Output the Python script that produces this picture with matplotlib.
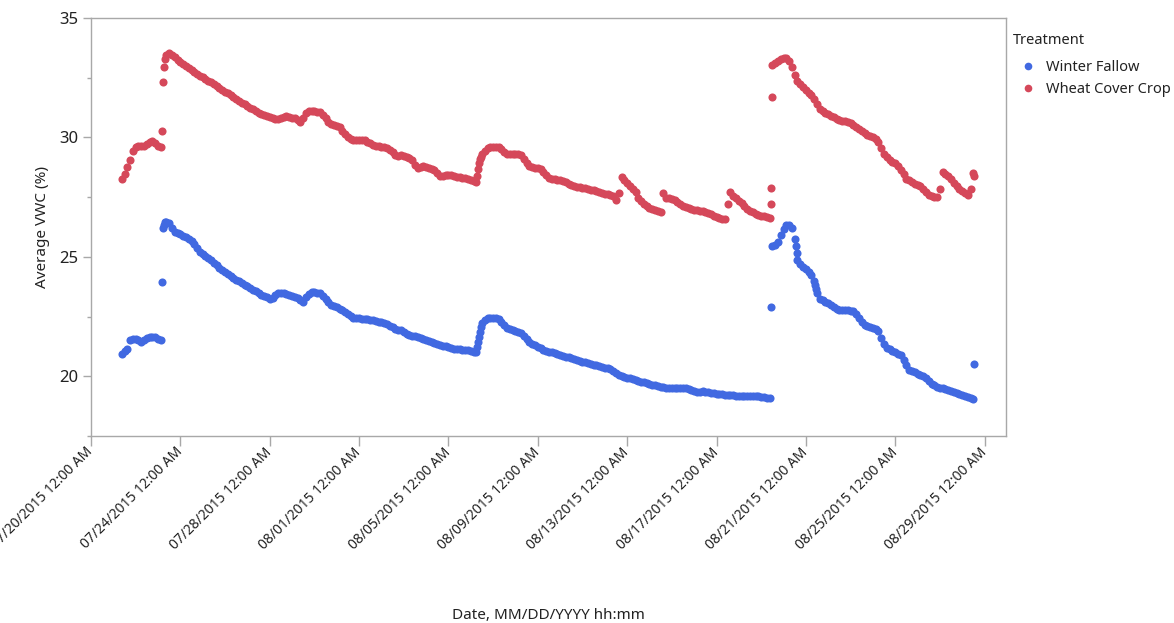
import matplotlib
matplotlib.use("Agg")
import matplotlib.pyplot as plt
import matplotlib.dates as mdates
from matplotlib.lines import Line2D
from matplotlib.ticker import FixedLocator, MultipleLocator
import numpy as np
import pandas as pd

# ---- data -------------------------------------------------------------
treatments = ["Winter Fallow", "Wheat Cover Crop"]
colors = ["#4169E1", "#D5485A"]

# regular 3-hourly logging runs (start of each run)
run_starts = ["2015-07-21 09:00", "2015-07-23 09:00", "2015-08-19 12:00"]

fallow_run1 = [20.95, 21.05, 21.15, 21.50, 21.58, 21.58, 21.52, 21.43, 21.50, 21.60,
               21.66, 21.66, 21.63, 21.58, 21.50]
cover_run1 = [28.25, 28.45, 28.75, 29.07, 29.45, 29.58, 29.65, 29.66, 29.66, 29.72,
              29.80, 29.85, 29.76, 29.66, 29.58]

fallow_run2 = [
    26.47, 26.43, 26.22, 26.06, 26.01, 25.95, 25.89, 25.83, 25.76, 25.68,
    25.53, 25.37, 25.20, 25.10, 25.02, 24.94, 24.85, 24.76, 24.66, 24.55,
    24.45, 24.37, 24.29, 24.21, 24.13, 24.05, 23.97, 23.89, 23.83, 23.76,
    23.69, 23.62, 23.56, 23.49, 23.42, 23.36, 23.30, 23.24, 23.28, 23.40,
    23.49, 23.50, 23.47, 23.43, 23.40, 23.36, 23.32, 23.26, 23.19, 23.12,
    23.30, 23.46, 23.51, 23.51, 23.50, 23.48, 23.38, 23.24, 23.10, 23.00,
    22.94, 22.88, 22.82, 22.76, 22.70, 22.62, 22.54, 22.46, 22.44, 22.42,
    22.41, 22.40, 22.39, 22.36, 22.34, 22.32, 22.29, 22.27, 22.24, 22.18,
    22.12, 22.06, 22.00, 21.94, 21.92, 21.85, 21.79, 21.74, 21.70, 21.67,
    21.63, 21.59, 21.55, 21.51, 21.47, 21.43, 21.40, 21.36, 21.32, 21.28,
    21.25, 21.21, 21.18, 21.16, 21.15, 21.13, 21.12, 21.11, 21.09, 21.06,
    21.03, 21.00, 21.65, 22.25, 22.36, 22.44, 22.46, 22.44, 22.42, 22.39,
    22.27, 22.14, 22.04, 22.00, 21.95, 21.91, 21.86, 21.80, 21.69, 21.56,
    21.44, 21.36, 21.30, 21.24, 21.18, 21.12, 21.07, 21.03, 21.00, 20.96,
    20.93, 20.89, 20.86, 20.82, 20.79, 20.75, 20.72, 20.68, 20.64, 20.61,
    20.58, 20.55, 20.52, 20.49, 20.46, 20.42, 20.39, 20.36, 20.33, 20.30,
    20.22, 20.13, 20.04, 20.00, 19.97, 19.94, 19.91, 19.88, 19.85, 19.82,
    19.78, 19.75, 19.71, 19.68, 19.64, 19.62, 19.60, 19.57, 19.55, 19.53,
    19.53, 19.52, 19.51, 19.51, 19.50, 19.50, 19.49, 19.46, 19.42, 19.38,
    19.34, 19.36, 19.37, 19.35, 19.33, 19.31, 19.29, 19.27, 19.25, 19.24,
    19.23, 19.22, 19.21, 19.20, 19.19, 19.18, 19.18, 19.18, 19.18, 19.18,
    19.18, 19.18, 19.17, 19.15, 19.12, 19.10, 19.07]
cover_run2 = [
    33.45, 33.53, 33.47, 33.38, 33.26, 33.14, 33.06, 32.98, 32.90, 32.83,
    32.75, 32.67, 32.59, 32.52, 32.45, 32.37, 32.30, 32.22, 32.14, 32.06,
    31.99, 31.91, 31.84, 31.76, 31.68, 31.60, 31.53, 31.46, 31.39, 31.32,
    31.25, 31.17, 31.10, 31.04, 30.99, 30.93, 30.88, 30.85, 30.82, 30.78,
    30.78, 30.82, 30.86, 30.88, 30.86, 30.83, 30.80, 30.74, 30.65, 30.80,
    31.04, 31.10, 31.12, 31.10, 31.08, 31.05, 30.95, 30.80, 30.64, 30.55,
    30.52, 30.48, 30.42, 30.28, 30.14, 30.02, 29.92, 29.90, 29.90, 29.90,
    29.90, 29.88, 29.82, 29.75, 29.69, 29.66, 29.64, 29.62, 29.60, 29.57,
    29.48, 29.37, 29.26, 29.22, 29.25, 29.22, 29.17, 29.13, 29.05, 28.86,
    28.74, 28.78, 28.81, 28.77, 28.73, 28.69, 28.63, 28.50, 28.40, 28.40,
    28.41, 28.42, 28.41, 28.38, 28.36, 28.34, 28.32, 28.29, 28.27, 28.22,
    28.17, 28.14, 28.95, 29.30, 29.45, 29.56, 29.58, 29.59, 29.59, 29.58,
    29.50, 29.40, 29.31, 29.31, 29.30, 29.30, 29.30, 29.28, 29.10, 28.92,
    28.80, 28.77, 28.74, 28.70, 28.66, 28.55, 28.43, 28.32, 28.27, 28.24,
    28.22, 28.20, 28.18, 28.13, 28.07, 28.01, 27.96, 27.94, 27.92, 27.90,
    27.87, 27.85, 27.81, 27.78, 27.74, 27.71, 27.68, 27.65, 27.62, 27.59,
    27.56, 27.36, 27.66, 28.35, 28.22, 28.08, 27.95, 27.85, 27.70, 27.48,
    27.33, 27.22, 27.12, 27.05, 27.00, 26.97, 26.92, 26.86, 27.66, 27.48,
    27.45, 27.43, 27.38, 27.28, 27.20, 27.15, 27.10, 27.05, 27.01, 26.98,
    26.95, 26.94, 26.90, 26.86, 26.82, 26.78, 26.73, 26.68, 26.64, 26.60,
    26.58, 27.21, 27.72, 27.56, 27.45, 27.35, 27.24, 27.12, 27.02, 26.93,
    26.86, 26.80, 26.76, 26.72, 26.69, 26.66, 26.63]

fallow_run3 = [
    25.46, 25.50, 25.62, 25.90, 26.15, 26.35, 26.33, 26.20, 25.75, 24.88,
    24.72, 24.58, 24.48, 24.37, 24.24, 23.98, 23.50, 23.25, 23.18, 23.12,
    23.05, 22.97, 22.89, 22.82, 22.79, 22.77, 22.76, 22.76, 22.75, 22.72,
    22.62, 22.45, 22.26, 22.15, 22.10, 22.06, 22.02, 21.98, 21.88, 21.62,
    21.36, 21.20, 21.13, 21.07, 21.01, 20.95, 20.88, 20.70, 20.46, 20.28,
    20.22, 20.16, 20.10, 20.05, 20.01, 19.92, 19.80, 19.68, 19.62, 19.57,
    19.53, 19.50, 19.47, 19.44, 19.40, 19.35, 19.30, 19.26, 19.22, 19.18,
    19.13, 19.08, 19.04]
cover_run3 = [
    33.05, 33.12, 33.20, 33.27, 33.33, 33.33, 33.20, 32.95, 32.62, 32.35,
    32.22, 32.10, 31.99, 31.88, 31.77, 31.62, 31.42, 31.21, 31.11, 31.04,
    30.98, 30.91, 30.84, 30.78, 30.72, 30.69, 30.67, 30.65, 30.62, 30.54,
    30.45, 30.36, 30.26, 30.19, 30.12, 30.06, 30.01, 29.95, 29.82, 29.55,
    29.30, 29.16, 29.07, 28.99, 28.91, 28.82, 28.65, 28.45, 28.28, 28.20,
    28.13, 28.07, 28.02, 27.96, 27.85, 27.73, 27.61, 27.54, 27.51, 27.49,
    27.84, 28.54, 28.48, 28.38, 28.24, 28.10, 27.97, 27.86, 27.76, 27.66,
    27.57, 27.84, 28.50]

# extra readings logged during wetting events
fallow_event_times = ["2015-07-23 04:00", "2015-07-23 05:00", "2015-07-23 06:00",
                      "2015-07-23 07:00", "2015-08-06 07:00", "2015-08-06 08:00",
                      "2015-08-06 10:00", "2015-08-06 11:00", "2015-08-19 10:40",
                      "2015-08-20 13:00", "2015-08-20 14:00", "2015-08-21 10:00",
                      "2015-08-21 11:00", "2015-08-28 13:00"]
fallow_event_vals = [23.96, 26.19, 26.35, 26.47, 21.22, 21.44, 21.85, 22.05, 22.88,
                     25.45, 25.15, 23.82, 23.66, 20.53]
cover_event_times = ["2015-07-23 04:00", "2015-07-23 05:00", "2015-07-23 06:00",
                     "2015-07-23 07:00", "2015-08-06 07:00", "2015-08-06 08:00",
                     "2015-08-06 10:00", "2015-08-06 11:00", "2015-08-19 10:00",
                     "2015-08-19 10:40", "2015-08-19 11:20", "2015-08-28 13:00"]
cover_event_vals = [30.27, 32.31, 32.96, 33.28, 28.40, 28.68, 29.08, 29.20, 27.21,
                    27.88, 31.68, 28.39]

tick_dates = ["2015-07-20", "2015-07-24", "2015-07-28", "2015-08-01", "2015-08-05",
              "2015-08-09", "2015-08-13", "2015-08-17", "2015-08-21", "2015-08-25",
              "2015-08-29"]
x_range = ["2015-07-20 00:00", "2015-08-29 23:00"]
y_range = [17.5, 35]


def assemble(runs, event_times, event_vals):
    stamps = [pd.date_range(start, periods=len(v), freq="3h") for start, v in zip(run_starts, runs)]
    times = pd.DatetimeIndex(np.concatenate([s.values for s in stamps]
                                            + [pd.to_datetime(event_times).values]))
    vals = np.concatenate([np.asarray(v, float) for v in runs] + [np.asarray(event_vals, float)])
    return times, vals


fallow_t, fallow_v = assemble([fallow_run1, fallow_run2, fallow_run3],
                              fallow_event_times, fallow_event_vals)
cover_t, cover_v = assemble([cover_run1, cover_run2, cover_run3],
                            cover_event_times, cover_event_vals)

# ---- figure -----------------------------------------------------------
plt.rcParams["font.family"] = ["Noto Sans", "DejaVu Sans"]
text_color = "#222222"
frame_color = "#A8A8A8"

W, H = 1174, 623
fig = plt.figure(figsize=(W / 100, H / 100), dpi=100)
ax = fig.add_axes([91 / W, 1 - 436 / H, (1006 - 91) / W, (436 - 18) / H])

for (t, v), c in zip([(fallow_t, fallow_v), (cover_t, cover_v)], colors):
    ax.scatter(t, v, s=34, color=c, linewidths=0, zorder=3)

ax.set_xlim(pd.to_datetime(x_range[0]), pd.to_datetime(x_range[1]))
ax.set_ylim(*y_range)

ax.xaxis.set_major_locator(FixedLocator(mdates.date2num(pd.to_datetime(tick_dates))))
ax.xaxis.set_major_formatter(mdates.DateFormatter("%m/%d/%Y %I:%M %p"))
ax.yaxis.set_major_locator(MultipleLocator(5))
ax.yaxis.set_minor_locator(MultipleLocator(2.5))

for s in ax.spines.values():
    s.set_color(frame_color)
    s.set_linewidth(1.0)

ax.tick_params(axis="both", which="both", colors=frame_color, labelcolor=text_color,
               direction="out", width=1.0)
ax.tick_params(axis="x", which="major", length=7, pad=3, labelsize=10)
ax.tick_params(axis="y", which="major", length=6, pad=3, labelsize=12)
ax.tick_params(axis="y", which="minor", length=3)

for lab in ax.get_xticklabels():
    lab.set_rotation(45)
    lab.set_ha("right")
    lab.set_va("center")
    lab.set_rotation_mode("anchor")

ax.set_ylabel("Average VWC (%)", fontsize=11, color=text_color, labelpad=7)
ax.set_xlabel("Date, MM/DD/YYYY hh:mm", fontsize=11, color=text_color)
ax.xaxis.set_label_coords(0.5, -0.412)

# legend: title placed as its own text, entries below it
fig.text(1013 / W, 1 - 40 / H, "Treatment", fontsize=10.5, color=text_color,
         ha="left", va="center")
handles = [Line2D([], [], ls="", marker="o", markersize=5.5, color=c, markeredgewidth=0)
           for c in colors]
leg = ax.legend(handles, treatments, loc="upper left",
                bbox_to_anchor=(1013 / W, 1 - 60 / H), bbox_transform=fig.transFigure,
                frameon=False, borderpad=0, borderaxespad=0,
                handlelength=2.0, handletextpad=0.25, labelspacing=0.5,
                fontsize=10.5)
for txt in leg.get_texts():
    txt.set_color(text_color)

fig.savefig("out.png", dpi=100, facecolor="white")
